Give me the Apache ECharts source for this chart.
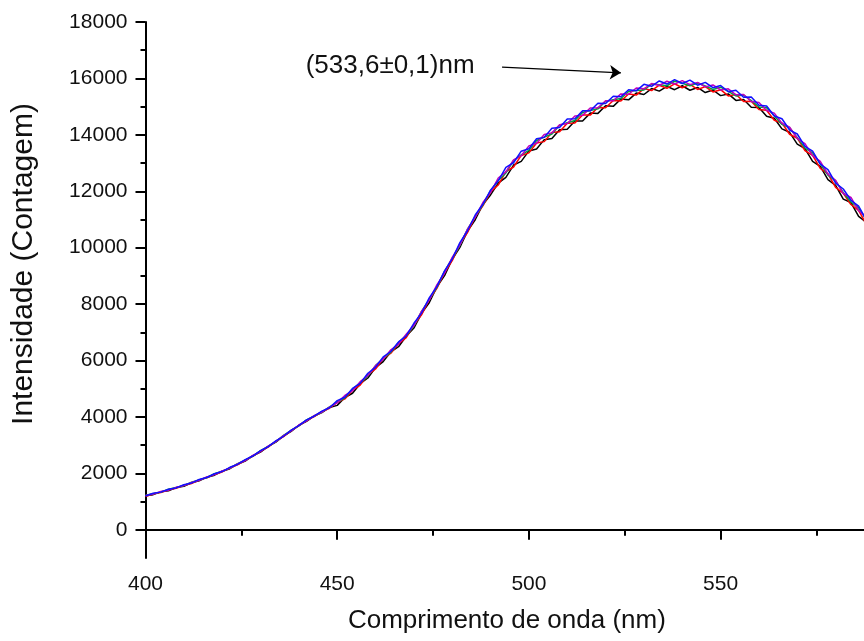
<!DOCTYPE html>
<html>
<head>
<meta charset="utf-8">
<script src="https://cdn.jsdelivr.net/npm/echarts@6/dist/echarts.min.js"></script>
<style>
  html, body { margin: 0; padding: 0; background: #ffffff; }
  #chart { width: 864px; height: 641px; }
</style>
</head>
<body>
<div id="chart"></div>
<script>
// Emission spectra: wavelength (nm) vs. intensity (counts), several repeated acquisitions
const wavelength = [
  400,402,404,406,408,410,412,414,416,418,420,422,424,426,428,430,432,434,436,438,
  440,442,444,446,448,450,452,454,456,458,460,462,464,466,468,470,472,474,476,478,
  480,482,484,486,488,490,492,494,496,498,500,502,504,506,508,510,512,514,516,518,
  520,522,524,526,528,530,532,534,536,538,540,542,544,546,548,550,552,554,556,558,
  560,562,564,566,568,570,572,574,576,578,580,582,584,586,588,590
];

const intensityBlack = [
  1205,1245,1345,1385,1495,1545,1665,1735,1865,1935,2075,2165,2325,2435,2625,2755,2955,3105,3325,3485,
  3705,3845,4035,4155,4335,4410,4690,4840,5180,5380,5750,5960,6310,6490,6860,7150,7670,8050,8610,9010,
  9590,10010,10590,10990,11530,11870,12290,12490,12930,13060,13430,13500,13830,13870,14180,14200,14490,14490,14770,14760,
  15030,15010,15270,15240,15480,15430,15640,15550,15720,15600,15740,15580,15680,15500,15590,15390,15450,15220,15250,14980,
  14970,14660,14590,14210,14090,13670,13510,13060,12880,12410,12210,11720,11600,11110,10900,10410
];

const intensityRed = [
  1180,1280,1320,1420,1470,1580,1640,1770,1840,1970,2050,2200,2300,2470,2600,2790,2930,3140,3300,3520,
  3680,3880,4010,4190,4310,4520,4640,4950,5130,5490,5700,6070,6260,6600,6810,7260,7620,8160,8560,9120,
  9540,10120,10540,11100,11480,11980,12220,12700,12860,13270,13360,13710,13760,14080,14110,14410,14420,14700,14700,14970,
  14960,15220,15200,15450,15410,15640,15570,15760,15650,15810,15670,15790,15610,15710,15520,15600,15380,15430,15180,15190,
  14900,14870,14520,14420,14020,13880,13440,13270,12810,12620,12140,11930,11530,11320,10830,10620
];

const intensityGreen = [
  1225,1280,1335,1435,1500,1565,1685,1770,1855,1985,2080,2185,2345,2470,2615,2805,2960,3125,3345,3520,
  3695,3895,4040,4175,4355,4520,4680,4990,5210,5450,5820,6070,6300,6640,6890,7220,7740,8160,8600,9160,
  9620,10080,10660,11100,11520,12020,12380,12650,13090,13290,13450,13800,13920,14030,14340,14430,14510,14790,14860,14920,
  15190,15240,15290,15540,15570,15590,15800,15780,15740,15900,15830,15740,15840,15730,15610,15690,15540,15380,15410,15210,
  14990,14960,14680,14370,14250,13900,13530,13360,12970,12570,12370,11950,11620,11410,10990,10570
];

const intensityMagenta = [
  1215,1265,1355,1405,1505,1565,1675,1755,1875,1955,2085,2185,2335,2455,2635,2775,2965,3125,3335,3505,
  3715,3865,4045,4175,4345,4500,4760,4930,5250,5470,5820,6050,6380,6580,6930,7240,7740,8140,8680,9100,
  9660,10100,10660,11080,11600,11960,12470,12690,13110,13260,13610,13700,14010,14070,14360,14400,14670,14690,14950,14960,
  15210,15210,15450,15440,15660,15630,15820,15750,15900,15800,15920,15780,15860,15700,15770,15590,15630,15420,15430,15180,
  15150,14860,14770,14410,14270,13870,13690,13260,13060,12610,12390,11920,11780,11310,11080,10610
];

const intensityBlue = [
  1195,1295,1335,1435,1485,1595,1655,1785,1855,1985,2065,2215,2315,2485,2615,2805,2945,3155,3315,3535,
  3695,3895,4025,4205,4325,4580,4700,5010,5190,5550,5760,6130,6320,6660,6870,7320,7680,8220,8620,9180,
  9600,10180,10600,11160,11540,12040,12370,12850,13010,13420,13510,13860,13910,14230,14260,14560,14570,14850,14850,15120,
  15110,15370,15350,15600,15560,15790,15720,15910,15800,15960,15820,15940,15760,15860,15670,15750,15530,15580,15330,15340,
  15050,15020,14670,14570,14170,14030,13590,13420,12960,12770,12290,12080,11680,11470,10980,10770
];

// Axis ticks
const xTickInterval = 50;
const yMajorTicks = [0, 2000, 4000, 6000, 8000, 10000, 12000, 14000, 16000, 18000];
const yMinorTicks = [1000, 3000, 5000, 7000, 9000, 11000, 13000, 15000, 17000];

// Peak annotation (label anchor, arrow tail, arrow tip) in data units
const peakLabel = '(533,6±0,1)nm';
const peakLabelPos = [463.8, 16440];
const arrowFrom = [493, 16400];
const arrowTo = [524, 16200];

const FONT = '"Liberation Sans", Arial, Helvetica, sans-serif';

function pairs(values) {
  return wavelength.map((w, i) => [w, values[i]]);
}

const traces = [
  { name: 'black', color: '#000000', values: intensityBlack },
  { name: 'red', color: '#ff0000', values: intensityRed },
  { name: 'green', color: '#00a040', values: intensityGreen },
  { name: 'magenta', color: '#c000c0', values: intensityMagenta },
  { name: 'blue', color: '#1010ff', values: intensityBlue }
];

const series = traces.map(t => ({
  name: t.name,
  type: 'line',
  data: pairs(t.values),
  showSymbol: false,
  symbol: 'none',
  lineStyle: { color: t.color, width: 1.5 },
  z: 2
}));

// arrow and label attached to the last trace
series[series.length - 1].markLine = {
  silent: true,
  symbol: ['none', 'arrow'],
  symbolSize: 11,
  label: { show: false },
  lineStyle: { color: '#000000', width: 1.2, type: 'solid' },
  data: [[{ coord: arrowFrom }, { coord: arrowTo }]]
};
series[series.length - 1].markPoint = {
  silent: true,
  symbol: 'circle',
  symbolSize: 0,
  data: [{
    coord: peakLabelPos,
    label: {
      show: true,
      position: 'inside',
      formatter: peakLabel,
      color: '#111111',
      fontFamily: FONT,
      fontSize: 26
    }
  }]
};

const axisLineStyle = { color: '#000000', width: 2 };
const plainNumber = v => String(v);

const option = {
  animation: false,
  backgroundColor: '#ffffff',
  grid: { left: 145.5, top: 22, width: 766.8, height: 536, outerBoundsMode: 'none', containLabel: false },
  xAxis: {
    type: 'value',
    min: 400,
    max: 600,
    interval: xTickInterval,
    name: 'Comprimento de onda (nm)',
    nameLocation: 'middle',
    nameGap: 50,
    nameTextStyle: { fontFamily: FONT, fontSize: 26, color: '#111111', padding: [0, 44, 0, 0] },
    axisLine: { show: true, lineStyle: axisLineStyle },
    axisTick: { show: true, inside: false, length: 10, lineStyle: axisLineStyle },
    minorTick: { show: true, splitNumber: 2, length: 6, lineStyle: axisLineStyle },
    axisLabel: { fontFamily: FONT, fontSize: 21, color: '#111111', margin: 16, formatter: plainNumber },
    splitLine: { show: false }
  },
  yAxis: [
    {
      type: 'value',
      min: -1000,
      max: 18000,
      name: 'Intensidade (Contagem)',
      nameLocation: 'middle',
      nameGap: 107,
      nameRotate: 90,
      nameTextStyle: { fontFamily: FONT, fontSize: 30, color: '#111111', padding: [0, 0, 0, 52] },
      axisLine: { show: true, lineStyle: axisLineStyle },
      axisTick: { show: true, inside: false, length: 10, lineStyle: axisLineStyle, customValues: yMajorTicks },
      axisLabel: { fontFamily: FONT, fontSize: 21, color: '#111111', margin: 18, customValues: yMajorTicks, formatter: plainNumber },
      splitLine: { show: false }
    },
    {
      type: 'value',
      min: -1000,
      max: 18000,
      position: 'left',
      axisLine: { show: false },
      axisTick: { show: true, inside: false, length: 5, lineStyle: axisLineStyle, customValues: yMinorTicks },
      axisLabel: { show: false },
      splitLine: { show: false }
    }
  ],
  series: series
};

const chart = echarts.init(document.getElementById('chart'), null, { renderer: 'canvas' });
chart.setOption(option);
</script>
</body>
</html>
